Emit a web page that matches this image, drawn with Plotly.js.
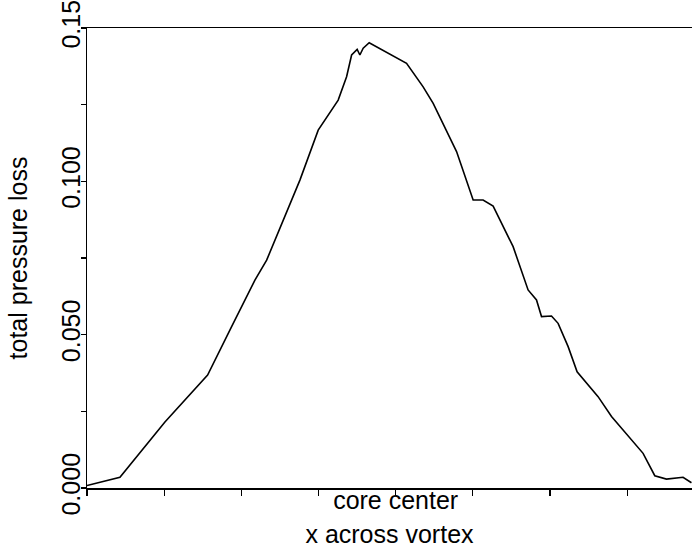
<!DOCTYPE html>
<html>
<head>
<meta charset="utf-8">
<script src="https://cdn.plot.ly/plotly-3.0.1.min.js"></script>
<style>html,body{margin:0;padding:0;background:#fff;}#chart{width:692px;height:556px;}</style>
</head>
<body>
<div id="chart"></div>
<script>
// x positions across the vortex (tick units; core center at 4)
const xAcross = [0, 0.427, 1.010, 1.563, 1.874, 2.176, 2.328, 2.522, 2.759, 2.996,
  3.255, 3.364, 3.407, 3.429, 3.501, 3.536, 3.579, 3.657, 4.141, 4.356,
  4.486, 4.702, 4.789, 5.004, 5.133, 5.263, 5.522, 5.716, 5.825, 5.890,
  6.019, 6.105, 6.235, 6.351, 6.623, 6.797, 7.206, 7.358, 7.509, 7.724, 7.833];
// total pressure loss values
const pressureLoss = [0.0008, 0.0035, 0.0215, 0.0368, 0.0526, 0.0678, 0.0743, 0.0858, 0.1004, 0.1167,
  0.1265, 0.1341, 0.1390, 0.1412, 0.1430, 0.1412, 0.1434, 0.1452, 0.1385, 0.1308,
  0.1254, 0.1140, 0.1097, 0.0939, 0.0939, 0.0919, 0.0787, 0.0646, 0.0613, 0.0559,
  0.0561, 0.0537, 0.0461, 0.0379, 0.0298, 0.0233, 0.0113, 0.0040, 0.0029, 0.0035, 0.0017];

const xTickVals = [0, 1, 2, 3, 4, 5, 6, 7];
const xTickText = ["", "", "", "", "core center", "", "", ""];
const yTickVals = [0, 0.025, 0.05, 0.075, 0.1, 0.125, 0.15];
const yTickText = ["0.000", "", "0.050", "", "0.100", "", "0.15"];

const font = {family: "Arial, 'Liberation Sans', sans-serif", size: 25, color: "#000"};

const trace = {
  x: xAcross, y: pressureLoss, type: "scatter", mode: "lines",
  line: {color: "#000", width: 1.6}, hoverinfo: "skip"
};

const layout = {
  width: 692, height: 556,
  margin: {l: 87, r: 0, t: 28, b: 68},
  paper_bgcolor: "#fff", plot_bgcolor: "#fff",
  showlegend: false,
  font: font,
  xaxis: {
    range: [0, 7.84], tickmode: "array", tickvals: xTickVals, ticktext: xTickText,
    ticks: "outside", ticklen: 6, tickwidth: 1.2, tickcolor: "#000",
    ticklabelstandoff: -17, ticklabeloverflow: "allow",
    showline: true, linecolor: "#000", linewidth: 1.5, mirror: true,
    showgrid: false, zeroline: false, tickfont: font,
    title: {text: "x across vortex", font: font, standoff: 13}
  },
  yaxis: {
    range: [0, 0.15], tickmode: "array", tickvals: yTickVals, ticktext: yTickText,
    ticks: "outside", ticklen: 5, tickwidth: 1.2, tickcolor: "#000", tickangle: -90,
    ticklabelstandoff: -9, ticklabeloverflow: "allow",
    showline: true, linecolor: "#000", linewidth: 1.5, mirror: false,
    showgrid: false, zeroline: false, tickfont: font,
    title: {text: "total pressure loss", font: font, standoff: 22}
  }
};

Plotly.newPlot("chart", [trace], layout, {staticPlot: true, displayModeBar: false});
</script>
</body>
</html>
